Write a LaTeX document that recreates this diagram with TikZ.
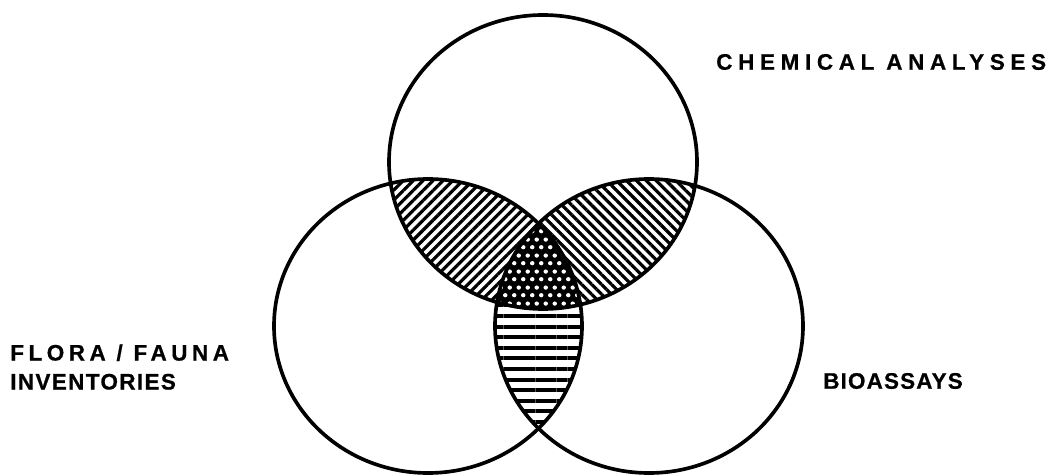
\documentclass[tikz,border=0pt]{standalone}
\usepackage{fontspec}
\usepackage{tikz}
\usetikzlibrary{positioning}
\usetikzlibrary{patterns, patterns.meta}

\newfontfamily\lblfont{Liberation Sans}[FakeBold=0.6]

% staggered white dots for the middle part
\pgfdeclarepatternformonly{stagdots}{\pgfpointorigin}{\pgfqpoint{6.4pt}{11.4pt}}{\pgfqpoint{6.4pt}{11.4pt}}{%
  \pgfpathcircle{\pgfqpoint{1.6pt}{2.85pt}}{1.6pt}
  \pgfpathcircle{\pgfqpoint{4.8pt}{8.55pt}}{1.6pt}
  \pgfusepath{fill}}

\tikzset{
  ring/.style={line width=2.6pt},
  setlabel/.style={font=\lblfont\bfseries\fontsize{16}{20.6}\selectfont, inner sep=0pt, anchor=west, align=left},
  diaghatch/.style={fill=white, postaction={pattern={Lines[angle=#1, distance=0.175cm, line width=0.08cm]}}},
  flathatch/.style={fill=white, postaction={pattern={Lines[angle=0, distance=0.265cm, line width=0.1cm]}}},
  dotfill/.style={fill=black, postaction={pattern=stagdots, pattern color=white}}
}

\newcommand{\topset}{(ctop) ellipse [x radius=154, y radius=147]}
\newcommand{\leftset}{(cleft) ellipse [x radius=154, y radius=147]}
\newcommand{\rightset}{(cright) ellipse [x radius=154, y radius=147]}
\newcommand{\spaced}[2]{{\addfontfeature{LetterSpace=#1}#2}}

\begin{document}
\begin{tikzpicture}[x=0.025cm, y=0.025cm]
  \useasboundingbox (0,0) rectangle (1060,475);

  % Centres of the three sets
  \coordinate (ctop) at (543,313);
  \coordinate (cleft) at (428,149);
  \coordinate (cright) at (649,149);

  % Left and right overlap
  \begin{scope}
    \clip \leftset;
    \fill[flathatch] \rightset;
  \end{scope}

  % Top and left overlap
  \begin{scope}
    \clip \topset;
    \fill[diaghatch=45] \leftset;
  \end{scope}

  % Top and right overlap
  \begin{scope}
    \clip \topset;
    \fill[diaghatch=-45] \rightset;
  \end{scope}

  % All three
  \begin{scope}
    \clip \topset;
    \clip \leftset;
    \fill[dotfill] \rightset;
  \end{scope}

  % Outlines
  \draw[ring] \topset;
  \draw[ring] \leftset;
  \draw[ring] \rightset;

  % Labels
  \node[setlabel] (chem) at (716,413) {\spaced{25}{CHEMICAL ANALYSES}};
  \node[setlabel] (flora) at (10,108) {\spaced{20}{FLORA / FAUNA}\\\spaced{6}{INVENTORIES}};
  \node[setlabel] (bio) at (823,94) {\spaced{5}{BIOASSAYS}};

\end{tikzpicture}
\end{document}
